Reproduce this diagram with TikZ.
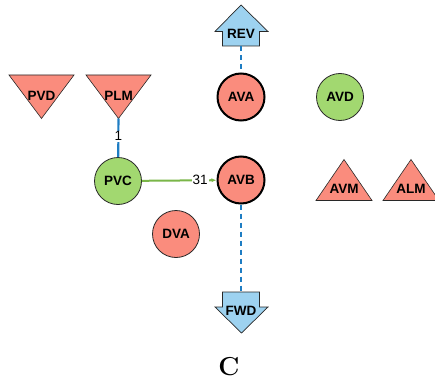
\documentclass[tikz,border=0pt]{standalone}
\usepackage{fontspec}
\usetikzlibrary{arrows.meta,positioning,calc}
\newfontfamily\labelfont{Liberation Sans}
\definecolor{nodered}{RGB}{250,140,125}
\definecolor{nodegreen}{RGB}{162,216,112}
\definecolor{nodeblue}{RGB}{157,210,240}
\definecolor{edgeblue}{RGB}{30,125,195}
\definecolor{edgegreen}{RGB}{122,182,72}
\definecolor{rim}{RGB}{40,40,40}

\begin{document}
\begin{tikzpicture}[x=1pt, y=-1pt,
  gene/.style={draw=rim, circle, minimum size=47pt, inner sep=0pt, line width=0.8pt,
    font=\labelfont\bfseries\fontsize{13.5}{15}\selectfont},
  hub/.style={gene, line width=2pt, draw=black},
  tag/.style={inner sep=0pt, font=\labelfont\bfseries\fontsize{13.5}{15}\selectfont},
  tri/.style={draw=rim, fill=nodered, line width=0.6pt, line join=miter},
  pointer/.style={draw=rim, fill=nodeblue, line width=0.7pt, line join=miter},
  wire/.style={draw=edgeblue, line width=2.1pt},
  dashwire/.style={wire, dash pattern=on 5pt off 4pt},
  greenwire/.style={draw=edgegreen, line width=2pt, -{Latex[length=5pt,width=4pt]}},
  num/.style={fill=white, inner sep=1pt, font=\labelfont\fontsize{13.5}{15}\selectfont}
]
  \useasboundingbox (0,0) rectangle (435,385);
  \clip (0,0) rectangle (435,385);
  % Shapes
  \draw[tri] (9,75) -- (74,75) -- (41.5,118.5) -- cycle;
  \draw[tri] (86,75) -- (151,75) -- (118.5,118.5) -- cycle;
  \draw[tri] (316,200.5) -- (372,200.5) -- (344,159.5) -- cycle;
  \draw[tri] (383,200.5) -- (439,200.5) -- (411,159.5) -- cycle;
  \draw[pointer] (241,5) -- (268,31.5) -- (259.5,31.5) -- (259.5,46)
    -- (222.5,46) -- (222.5,31.5) -- (215,31.5) -- cycle;
  \draw[pointer] (222.5,292) -- (259.5,292) -- (259.5,307) -- (268,307)
    -- (241.5,333) -- (215,307) -- (222.5,307) -- cycle;
  \coordinate (REVb) at (241,46);
  \coordinate (FWDt) at (241,292);
  \coordinate (PLMtip) at (118.5,118.5);
  % Nodes
  \node[tag] (PVD) at (41.5,96) {PVD};
  \node[tag] (PLM) at (118.5,96) {PLM};
  \node[tag] (AVM) at (344,189) {AVM};
  \node[tag] (ALM) at (411,189) {ALM};
  \node[tag] (REV) at (241,34) {REV};
  \node[tag] (FWD) at (241,311) {FWD};
  \node[hub, fill=nodered] (AVA) at (241,97) {AVA};
  \node[gene, fill=nodegreen] (AVD) at (340,97) {AVD};
  \node[gene, fill=nodegreen] (PVC) at (118,181) {PVC};
  \node[hub, fill=nodered] (AVB) at (241,180) {AVB};
  \node[gene, fill=nodered] (DVA) at (176,234) {DVA};
  % Arrows
  \draw[dashwire] (REVb) -- (AVA);
  \draw[dashwire] (AVB) -- (FWDt);
  \draw[wire] (PLMtip) -- (PVC) node[num, pos=0.46] {1};
  \draw[greenwire] (PVC) -- (AVB) node[num, pos=0.78] {31};
  \node[font=\fontsize{26}{30}\selectfont\bfseries] (title) at (229,367) {C};
\end{tikzpicture}
\end{document}
